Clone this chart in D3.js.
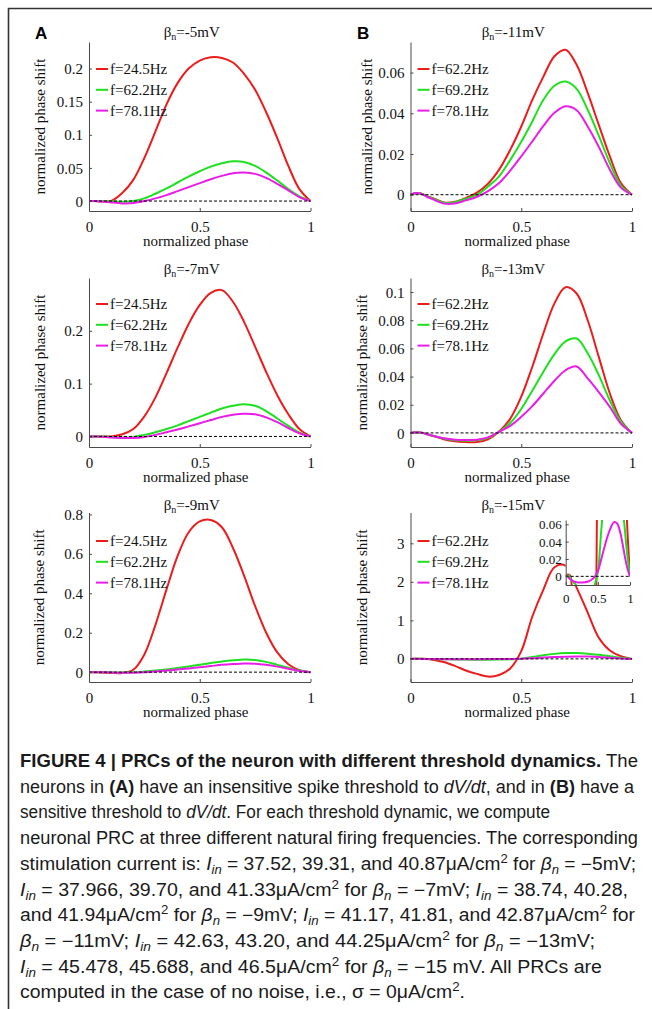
<!DOCTYPE html>
<html>
<head>
<meta charset="utf-8">
<script src="https://cdn.jsdelivr.net/npm/d3@7"></script>
<style>
  body { margin: 0; background: #fff; }
  svg { display: block; }
</style>
</head>
<body>
<svg id="fig" width="652" height="1009"></svg>
<script>
// ---- data -------------------------------------------------------------
// normalized phase at which each PRC value is sampled
const phase = [0, 0.025, 0.05, 0.075, 0.1, 0.15, 0.2, 0.25, 0.3, 0.35, 0.4, 0.45,
               0.5, 0.55, 0.6, 0.65, 0.7, 0.75, 0.8, 0.85, 0.9, 0.95, 1];

const freqLabelsA = ["f=24.5Hz", "f=62.2Hz", "f=78.1Hz"];
const freqLabelsB = ["f=62.2Hz", "f=69.2Hz", "f=78.1Hz"];

// (A) insensitive threshold, beta_n = -5 mV
const prcA5_f245 = [0, 0, -0.0005, -0.0008, 0, 0.012, 0.032, 0.065, 0.105, 0.146, 0.178, 0.2, 0.212, 0.217, 0.216, 0.209, 0.192, 0.168, 0.134, 0.095, 0.053, 0.018, 0];
const prcA5_f622 = [0, 0, 0, -0.0003, -0.0006, -0.001, 0, 0.004, 0.011, 0.019, 0.028, 0.037, 0.045, 0.052, 0.057, 0.06, 0.059, 0.053, 0.043, 0.031, 0.018, 0.007, 0];
const prcA5_f781 = [0, 0, -0.0005, -0.001, -0.002, -0.0035, -0.003, 0, 0.004, 0.009, 0.015, 0.021, 0.027, 0.033, 0.038, 0.042, 0.043, 0.041, 0.035, 0.026, 0.016, 0.006, 0];
// beta_n = -7 mV
const prcA7_f245 = [0, 0, 0, 0, 0, 0.004, 0.014, 0.038, 0.074, 0.12, 0.168, 0.213, 0.249, 0.272, 0.277, 0.255, 0.217, 0.17, 0.122, 0.078, 0.042, 0.014, 0];
const prcA7_f622 = [0, 0, 0, -0.0005, -0.001, -0.002, -0.001, 0.003, 0.008, 0.014, 0.021, 0.029, 0.037, 0.045, 0.053, 0.058, 0.061, 0.058, 0.048, 0.034, 0.02, 0.007, 0];
const prcA7_f781 = [0, 0, -0.0005, -0.001, -0.002, -0.003, -0.003, -0.001, 0.003, 0.008, 0.013, 0.019, 0.025, 0.031, 0.037, 0.041, 0.043, 0.042, 0.036, 0.027, 0.016, 0.006, 0];
// beta_n = -9 mV
const prcA9_f245 = [0, 0, -0.002, -0.003, -0.004, -0.004, 0.012, 0.09, 0.24, 0.42, 0.59, 0.71, 0.765, 0.772, 0.735, 0.63, 0.49, 0.335, 0.2, 0.1, 0.04, 0.01, 0];
const prcA9_f622 = [0, 0, 0, -0.0005, -0.001, -0.002, -0.001, 0.003, 0.008, 0.014, 0.021, 0.029, 0.038, 0.046, 0.054, 0.06, 0.064, 0.062, 0.052, 0.037, 0.022, 0.008, 0];
const prcA9_f781 = [0, 0, -0.0005, -0.001, -0.002, -0.003, -0.003, -0.001, 0.003, 0.008, 0.013, 0.019, 0.025, 0.031, 0.037, 0.041, 0.044, 0.043, 0.037, 0.028, 0.017, 0.006, 0];

// (B) sensitive threshold, beta_n = -11 mV
const prcB11_f622 = [0, 0.0008, 0.0005, -0.0008, -0.0016, -0.0038, -0.0035, -0.0016, 0.001, 0.0054, 0.0123, 0.022, 0.0335, 0.0466, 0.058, 0.068, 0.0712, 0.0638, 0.05, 0.0343, 0.0188, 0.0057, 0];
const prcB11_f692 = [0, 0.0008, 0.0005, -0.0008, -0.0018, -0.0039, -0.0037, -0.002, 0, 0.004, 0.009, 0.017, 0.026, 0.036, 0.0466, 0.0535, 0.0556, 0.052, 0.0417, 0.029, 0.0155, 0.0045, 0];
const prcB11_f781 = [0, 0.0008, 0.0004, -0.001, -0.0022, -0.0043, -0.0043, -0.0028, -0.001, 0.0018, 0.0057, 0.0118, 0.0188, 0.0262, 0.0338, 0.0402, 0.0434, 0.0415, 0.0335, 0.0235, 0.0123, 0.0035, 0];
// beta_n = -13 mV
const prcB13_f622 = [0, 0.0005, 0.0002, -0.001, -0.002, -0.0045, -0.006, -0.0065, -0.0065, -0.0045, 0.001, 0.01, 0.0257, 0.047, 0.0708, 0.092, 0.1035, 0.099, 0.08, 0.054, 0.028, 0.009, 0];
const prcB13_f692 = [0, 0.0005, 0.0002, -0.001, -0.002, -0.004, -0.0052, -0.0055, -0.0052, -0.0035, 0.0008, 0.007, 0.017, 0.03, 0.0435, 0.056, 0.065, 0.067, 0.0565, 0.041, 0.023, 0.008, 0];
const prcB13_f781 = [0, 0.0005, 0.0002, -0.001, -0.002, -0.0038, -0.0048, -0.005, -0.0048, -0.0032, 0.0008, 0.005, 0.0114, 0.019, 0.028, 0.037, 0.0445, 0.0472, 0.0387, 0.029, 0.0185, 0.0065, 0];
// beta_n = -15 mV
const prcB15_f622 = [0, 0.002, 0.002, 0, -0.02, -0.08, -0.18, -0.3, -0.39, -0.46, -0.42, -0.25, 0.2, 1.1, 1.8, 2.38, 2.42, 1.85, 1.2, 0.55, 0.22, 0.07, 0];
const prcB15_f692 = [0, 0.001, 0.001, -0.002, -0.005, -0.009, -0.014, -0.018, -0.02, -0.02, -0.017, -0.01, 0.005, 0.05, 0.095, 0.13, 0.152, 0.153, 0.135, 0.105, 0.07, 0.03, 0];
const prcB15_f781 = [0, 0.0005, -0.002, -0.0035, -0.005, -0.0065, -0.007, -0.007, -0.0068, -0.006, -0.004, -0.0005, 0.006, 0.019, 0.033, 0.046, 0.056, 0.0625, 0.061, 0.05, 0.031, 0.012, 0];

// axis limits and ticks
const yLimA5 = [-0.015, 0.24], yTicksA5 = [0, 0.05, 0.1, 0.15, 0.2];
const yLimA7 = [-0.02, 0.3],   yTicksA7 = [0, 0.1, 0.2];
const yLimA9 = [-0.05, 0.81],  yTicksA9 = [0, 0.2, 0.4, 0.6, 0.8];
const yLimB11 = [-0.008, 0.075], yTicksB11 = [0, 0.02, 0.04, 0.06];
const yLimB13 = [-0.01, 0.11],   yTicksB13 = [0, 0.02, 0.04, 0.06, 0.08, 0.1];
const yLimB15 = [-0.6, 3.8],     yTicksB15 = [0, 1, 2, 3];
const yLimInset = [-0.01, 0.065], yTicksInset = [0, 0.02, 0.04, 0.06];
const xTicks = [0, 0.5, 1];

// ---- styling / layout -----------------------------------------------
const colors = ["#ec1c1c", "#1fe01f", "#ea1cea"];
const serif = "'Liberation Serif', 'Times New Roman', serif";
const sans = "'Liberation Sans', Arial, sans-serif";
const axisColor = "#4a4a4a";

const colX = [[89, 310.5], [410.5, 632]];
const rowY = [[42, 211], [278, 447], [512.5, 682]];
const titleBase = [37, 274, 510];
const legendTop = [69, 304, 541];

const panels = [
  { col: 0, row: 0, beta: "-5",  letter: "A", yLim: yLimA5,  yTicks: yTicksA5,  names: freqLabelsA, series: [prcA5_f245, prcA5_f622, prcA5_f781], ylabOff: 44 },
  { col: 0, row: 1, beta: "-7",  yLim: yLimA7,  yTicks: yTicksA7,  names: freqLabelsA, series: [prcA7_f245, prcA7_f622, prcA7_f781], ylabOff: 44 },
  { col: 0, row: 2, beta: "-9",  yLim: yLimA9,  yTicks: yTicksA9,  names: freqLabelsA, series: [prcA9_f245, prcA9_f622, prcA9_f781], ylabOff: 45 },
  { col: 1, row: 0, beta: "-11", letter: "B", yLim: yLimB11, yTicks: yTicksB11, names: freqLabelsB, series: [prcB11_f622, prcB11_f692, prcB11_f781], ylabOff: 39 },
  { col: 1, row: 1, beta: "-13", yLim: yLimB13, yTicks: yTicksB13, names: freqLabelsB, series: [prcB13_f622, prcB13_f692, prcB13_f781], ylabOff: 44 },
  { col: 1, row: 2, beta: "-15", yLim: yLimB15, yTicks: yTicksB15, names: freqLabelsB, series: [prcB15_f622, prcB15_f692, prcB15_f781], ylabOff: 44, inset: true }
];

const svg = d3.select("#fig");
svg.append("rect").attr("width", 652).attr("height", 1009).attr("fill", "#fff");

// figure frame (top and left rules)
svg.append("path")
  .attr("d", "M652,8.5 H8.5 V1009")
  .attr("fill", "none").attr("stroke", "#333").attr("stroke-width", 1.6);

const defs = svg.append("defs");

function styleAxis(g, size) {
  g.select(".domain").attr("stroke", axisColor).attr("stroke-width", 1);
  g.selectAll(".tick line").attr("stroke", axisColor).attr("stroke-width", 1);
  g.selectAll(".tick text").attr("fill", "#111").attr("font-family", serif).attr("font-size", size);
}

function drawAxes(g, x, y, yTicks, opts) {
  const gy = g.append("g").attr("transform", `translate(${x.range()[0]},0)`)
    .call(d3.axisLeft(y).tickValues(yTicks).tickFormat(d => String(d))
      .tickSizeInner(-3).tickSizeOuter(0).tickPadding(opts.yPad));
  styleAxis(gy, opts.font);
  gy.selectAll(".tick text").attr("dy", "0.34em");

  const gx = g.append("g").attr("transform", `translate(0,${y.range()[0]})`)
    .call(d3.axisBottom(x).tickValues(xTicks).tickFormat(d => String(d))
      .tickSizeInner(-3).tickSizeOuter(0).tickPadding(opts.xPad));
  styleAxis(gx, opts.font);
}

function drawCurves(g, x, y, series, clipId) {
  const line = d3.line()
    .x((d, i) => x(phase[i]))
    .y(d => y(d))
    .curve(d3.curveCatmullRom.alpha(0.5));
  const cg = g.append("g");
  if (clipId) cg.attr("clip-path", `url(#${clipId})`);
  series.forEach((s, k) => {
    cg.append("path").attr("d", line(s))
      .attr("fill", "none").attr("stroke", colors[k])
      .attr("stroke-width", 2).attr("stroke-linejoin", "round");
  });
  // dashed zero reference
  cg.append("line")
    .attr("x1", x(0)).attr("x2", x(1)).attr("y1", y(0)).attr("y2", y(0))
    .attr("stroke", "#000").attr("stroke-width", 1).attr("stroke-dasharray", "3,2");
}

panels.forEach(p => {
  const [x0, x1] = colX[p.col];
  const [y0, y1] = rowY[p.row];
  const x = d3.scaleLinear().domain([0, 1]).range([x0, x1]);
  const y = d3.scaleLinear().domain(p.yLim).range([y1, y0]);
  const g = svg.append("g");

  drawCurves(g, x, y, p.series, null);
  drawAxes(g, x, y, p.yTicks, { font: 15, yPad: 6, xPad: 10 });

  // title: beta_n = ...
  const t = g.append("text")
    .attr("x", (x0 + x1) / 2 - 8).attr("y", titleBase[p.row])
    .attr("text-anchor", "middle").attr("font-family", serif).attr("font-size", 15).attr("fill", "#111");
  t.append("tspan").text("β");
  t.append("tspan").attr("font-size", 10).attr("dy", 3).text("n");
  t.append("tspan").attr("dy", -3).text(`=${p.beta}mV`);

  // axis labels
  g.append("text")
    .attr("x", (x0 + x1) / 2 - 4).attr("y", y1 + 35)
    .attr("text-anchor", "middle").attr("font-family", serif).attr("font-size", 15).attr("fill", "#111")
    .text("normalized phase");
  g.append("text")
    .attr("transform", `translate(${x0 - p.ylabOff},${(y0 + y1) / 2}) rotate(-90)`)
    .attr("text-anchor", "middle").attr("font-family", serif).attr("font-size", 15).attr("fill", "#111")
    .text("normalized phase shift");

  // legend
  p.names.forEach((name, k) => {
    const ly = legendTop[p.row] + k * 20.8;
    g.append("line").attr("x1", x0 + 7).attr("x2", x0 + 19).attr("y1", ly).attr("y2", ly)
      .attr("stroke", colors[k]).attr("stroke-width", 2);
    g.append("text").attr("x", x0 + 21).attr("y", ly).attr("dy", "0.34em")
      .attr("font-family", serif).attr("font-size", 15).attr("fill", "#111").text(name);
  });

  if (p.letter) {
    g.append("text").attr("x", p.col === 0 ? 35 : 357).attr("y", 39)
      .attr("font-family", sans).attr("font-weight", "bold").attr("font-size", 17)
      .attr("fill", "#000").text(p.letter);
  }

  if (p.inset) {
    const ix = d3.scaleLinear().domain([0, 1]).range([565.7, 630]);
    const iy = d3.scaleLinear().domain(yLimInset).range([585, 520]);
    const ig = svg.append("g");
    ig.append("rect").attr("x", 565.7).attr("y", 520).attr("width", 64.3).attr("height", 65).attr("fill", "#fff");
    defs.append("clipPath").attr("id", "insetClip")
      .append("rect").attr("x", 565.7).attr("y", 520).attr("width", 64.3).attr("height", 65);
    drawCurves(ig, ix, iy, p.series, "insetClip");
    drawAxes(ig, ix, iy, yTicksInset, { font: 13, yPad: 4, xPad: 9 });
  }
});

// ---- caption ----------------------------------------------------------
const caption = svg.append("g").attr("font-family", sans).attr("font-size", 17.5).attr("fill", "#1a1a1a");
const I_in = [{ t: "I", i: 1 }, { t: "in", i: 1, sub: 1 }];
const beta_n = [{ t: "β", i: 1 }, { t: "n", i: 1, sub: 1 }];
const cm2 = [{ t: "μA/cm" }, { t: "2", sup: 1 }];
const captionLines = [
  [{ t: "FIGURE 4 | PRCs of the neuron with different threshold dynamics.", b: 1 }, { t: " The" }],
  [{ t: "neurons in " }, { t: "(A)", b: 1 }, { t: " have an insensitive spike threshold to " }, { t: "dV/dt", i: 1 }, { t: ", and in " }, { t: "(B)", b: 1 }, { t: " have a" }],
  [{ t: "sensitive threshold to " }, { t: "dV/dt", i: 1 }, { t: ". For each threshold dynamic, we compute" }],
  [{ t: "neuronal PRC at three different natural firing frequencies. The corresponding" }],
  [{ t: "stimulation current is: " }, ...I_in, { t: " = 37.52, 39.31, and 40.87" }, ...cm2, { t: " for " }, ...beta_n, { t: " = −5mV;" }],
  [...I_in, { t: " = 37.966, 39.70, and 41.33" }, ...cm2, { t: " for " }, ...beta_n, { t: " = −7mV; " }, ...I_in, { t: " = 38.74, 40.28," }],
  [{ t: "and 41.94" }, ...cm2, { t: " for " }, ...beta_n, { t: " = −9mV; " }, ...I_in, { t: " = 41.17, 41.81, and 42.87" }, ...cm2, { t: " for" }],
  [...beta_n, { t: " = −11mV; " }, ...I_in, { t: " = 42.63, 43.20, and 44.25" }, ...cm2, { t: " for " }, ...beta_n, { t: " = −13mV;" }],
  [...I_in, { t: " = 45.478, 45.688, and 46.5" }, ...cm2, { t: " for " }, ...beta_n, { t: " = −15 mV. All PRCs are" }],
  [{ t: "computed in the case of no noise, i.e., σ = 0" }, ...cm2, { t: "." }]
];
// right end of each caption line (ragged-right block starting at x = 20)
const captionLineEnds = [638, 634, 550, 638, 636, 628, 635, 595, 602, 465];

captionLines.forEach((segs, li) => {
  const text = caption.append("text").attr("x", 20).attr("y", 767 + li * 25.7)
    .attr("textLength", captionLineEnds[li] - 20).attr("lengthAdjust", "spacingAndGlyphs");
  let shift = 0;
  segs.forEach(s => {
    const target = s.sub ? 4 : s.sup ? -7 : 0;
    const ts = text.append("tspan").text(s.t);
    if (target !== shift) ts.attr("dy", target - shift);
    shift = target;
    if (s.b) ts.attr("font-weight", "bold");
    if (s.i) ts.attr("font-style", "italic");
    if (s.sub || s.sup) ts.attr("font-size", 12);
  });
});
</script>
</body>
</html>
